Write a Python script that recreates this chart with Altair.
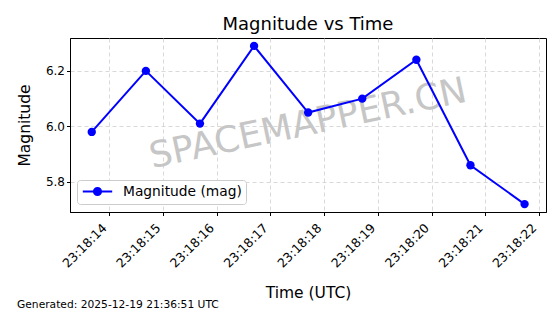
import altair as alt
import pandas as pd

# ---- data ----
times = [
    "2025-12-19T23:18:13.675Z",
    "2025-12-19T23:18:14.682Z",
    "2025-12-19T23:18:15.689Z",
    "2025-12-19T23:18:16.696Z",
    "2025-12-19T23:18:17.703Z",
    "2025-12-19T23:18:18.710Z",
    "2025-12-19T23:18:19.717Z",
    "2025-12-19T23:18:20.724Z",
    "2025-12-19T23:18:21.731Z",
]
magnitudes = [5.98, 6.20, 6.01, 6.29, 6.05, 6.10, 6.24, 5.86, 5.72]
series_name = "Magnitude (mag)"
x_ticks = [
    "2025-12-19T23:18:14.000Z", "2025-12-19T23:18:15.000Z", "2025-12-19T23:18:16.000Z",
    "2025-12-19T23:18:17.000Z", "2025-12-19T23:18:18.000Z", "2025-12-19T23:18:19.000Z",
    "2025-12-19T23:18:20.000Z", "2025-12-19T23:18:21.000Z", "2025-12-19T23:18:22.000Z",
]
y_ticks = [5.8, 6.0, 6.2]
x_domain = ["2025-12-19T23:18:13.270Z", "2025-12-19T23:18:22.130Z"]
y_domain = [5.6915, 6.3185]
title_text = "Magnitude vs Time"
x_title = "Time (UTC)"
y_title = "Magnitude"
watermark_text = ["SPACEMAPPER.CN"]
footer_text = ["Generated: 2025-12-19 21:36:51 UTC"]

df = pd.DataFrame({"time": times, "mag": magnitudes, "series": [series_name] * len(times)})

FONT = "DejaVu Sans"
BLUE = "#0000ff"

def dt(s):
    date, clock = s.rstrip("Z").split("T")
    y, mo, d = [int(v) for v in date.split("-")]
    hh, mm, ss = clock.split(":")
    sec, ms = ss.split(".")
    return alt.DateTime(year=y, month=mo, date=d, hours=int(hh), minutes=int(mm),
                        seconds=int(sec), milliseconds=int(ms), utc=True)

x_enc = alt.X(
    "time:T",
    scale=alt.Scale(type="utc", domain=[dt(x_domain[0]), dt(x_domain[1])], nice=False),
    axis=alt.Axis(
        title=x_title,
        format="%H:%M:%S",
        values=[dt(t) for t in x_ticks],
        labelAngle=315,
        labelAlign="right",
        labelBaseline="middle",
        labelFontSize=12.5,
        labelPadding=10,
        labelOffset=-5,
        titlePadding=16,
    ),
)
y_enc = alt.Y(
    "mag:Q",
    scale=alt.Scale(domain=y_domain, nice=False, zero=False),
    axis=alt.Axis(title=y_title, values=y_ticks, format=".1f", titlePadding=13),
)

# legend symbol: a line with a filled dot on it (scaled by sqrt(size)/2 = 6.5 px)
legend_path = ("M -2.26 0 L 2.26 0 M 0.55 0 A 0.55 0.55 0 1 1 -0.55 0 "
               "A 0.55 0.55 0 1 1 0.55 0 Z")

color_enc = alt.Color(
    "series:N",
    scale=alt.Scale(domain=[series_name], range=[BLUE]),
    legend=alt.Legend(
        title=None,
        orient="none",
        legendX=7,
        legendY=142,
        symbolType=legend_path,
        symbolSize=169,
        symbolStrokeWidth=2,
        symbolFillColor=BLUE,
        symbolStrokeColor=BLUE,
        symbolOffset=9,
        labelFontSize=13.8,
        labelFont=FONT,
        labelColor="black",
        labelOffset=18,
        padding=4,
        strokeColor="#cccccc",
        fillColor="white",
        cornerRadius=3,
    ),
)

base = alt.Chart(df)

watermark = alt.Chart(pd.DataFrame({"t": watermark_text})).mark_text(
    font=FONT, fontSize=36, color="#c6c6c6", fontWeight="normal",
    angle=348, align="center", baseline="middle",
).encode(text="t:N", x=alt.value(238), y=alt.value(86))

line = base.mark_line(strokeWidth=2, color=BLUE).encode(x=x_enc, y=y_enc, color=color_enc)
points = base.mark_point(filled=True, size=70, opacity=1, color=BLUE).encode(
    x=x_enc, y=y_enc, color=color_enc
)

footer = alt.Chart(pd.DataFrame({"t": footer_text})).mark_text(
    font=FONT, fontSize=10.7, color="black", fontWeight="normal",
    align="left", baseline="alphabetic",
).encode(text="t:N", x=alt.value(-53), y=alt.value(270))

chart = (
    alt.layer(watermark, line, points, footer)
    .properties(
        width=476,
        height=174,
        title=alt.TitleParams(title_text, font=FONT, fontSize=18, fontWeight="normal",
                              anchor="middle", baseline="alphabetic", offset=-10, color="black"),
        autosize=alt.AutoSizeParams(type="none"),
        padding={"left": 70, "top": 38, "right": 14, "bottom": 102},
    )
    .configure(font=FONT)
    .configure_view(stroke="black", strokeWidth=1)
    .configure_axis(
        labelFont=FONT, titleFont=FONT, labelFontSize=12, titleFontSize=15.5,
        titleFontWeight="normal", labelColor="black", titleColor="black",
        domainColor="black", tickColor="black", tickSize=3.5, domainWidth=1,
        gridColor="#cfcfcf", gridDash=[4, 3], gridWidth=0.8,
    )
)

chart.save("out.html", embed_options={"renderer": "svg", "actions": False})
